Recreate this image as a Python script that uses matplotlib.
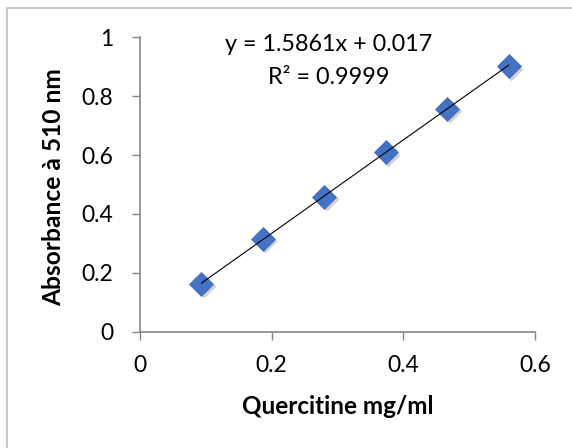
import matplotlib
matplotlib.use("Agg")
import matplotlib.pyplot as plt
import matplotlib.transforms as mtransforms
from matplotlib.patches import Rectangle
import numpy as np

# quercitine calibration
conc = [0.0933, 0.1867, 0.28, 0.3733, 0.4667, 0.56]
absorb = [0.163, 0.315, 0.458, 0.610, 0.758, 0.902]
slope = 1.5861
intercept = 0.017
r2 = 0.9999

xticks = [0, 0.2, 0.4, 0.6]
xticklabels = ['0', '0.2', '0.4', '0.6']
yticks = [0, 0.2, 0.4, 0.6, 0.8, 1]
yticklabels = ['0', '0.2', '0.4', '0.6', '0.8', '1']

plt.rcParams['font.family'] = ['Lato', 'DejaVu Sans']

fig = plt.figure(figsize=(5.72, 4.48), dpi=100)
ax = fig.add_axes([140/572, 1 - 331.7/448, 395/572, 294.4/448])

# outer chart border (Excel style)
fig.patches.append(Rectangle((7/572, -0.1), 1.1, 1 - 8/448 + 0.1, transform=fig.transFigure,
                             fill=False, edgecolor='#bfbfbf', linewidth=1.2))

# shadow behind the markers
shadow = ax.transData + mtransforms.ScaledTranslation(1.8/72, -1.8/72, fig.dpi_scale_trans)
ax.plot(conc, absorb, linestyle='none', marker='D', ms=12, color='#808080',
        alpha=0.35, mec='none', transform=shadow, zorder=2)
ax.plot(conc, absorb, linestyle='none', marker='D', ms=12, color='#4472c4',
        mec='#3d69b8', mew=0.5, zorder=3)

# trendline
xs = np.array([conc[0], conc[-1]])
ax.plot(xs, slope * xs + intercept, color='black', lw=0.8, zorder=4)

eq1 = ax.text(0.287, 0.974, "y = %.4fx + %.3f" % (slope, intercept),
              ha='center', va='center', fontsize=18)
eq2 = ax.text(0.287, 0.865, "R² = %.4f" % r2, ha='center', va='center', fontsize=18)

ax.set_xlim(0, 0.6)
ax.set_ylim(0, 1)
ax.set_xticks(xticks)
ax.set_yticks(yticks)
ax.set_xticklabels(xticklabels)
ax.set_yticklabels(yticklabels)

for s in ['top', 'right']:
    ax.spines[s].set_visible(False)
for s in ['left', 'bottom']:
    ax.spines[s].set_color('#868686')
    ax.spines[s].set_linewidth(1.2)
ax.tick_params(colors='#868686', labelcolor='black', labelsize=17, length=6, width=1.0)
ax.tick_params(axis='y', pad=13)
ax.tick_params(axis='x', pad=11)

ax.set_xlabel("Quercitine mg/ml", fontsize=16, fontweight='bold')
ax.set_ylabel("Absorbance à 510 nm", fontsize=16, fontweight='bold')

# match text widths to the reference (pixels)
fig.canvas.draw()
r = fig.canvas.get_renderer()


def fit(t, target, vertical=False):
    bb = t.get_window_extent(r)
    cur = bb.height if vertical else bb.width
    t.set_fontsize(t.get_fontsize() * target / cur)


scale_eq = 208 / eq1.get_window_extent(r).width
eq1.set_fontsize(18 * scale_eq)
eq2.set_fontsize(18 * scale_eq)

tick08 = ax.get_yticklabels()[4]
ax.tick_params(labelsize=17 * 32 / tick08.get_window_extent(r).width)

fit(ax.xaxis.label, 193)
fit(ax.yaxis.label, 238, vertical=True)

ax.xaxis.label.set_va('center')
ax.yaxis.label.set_va('center')
ax.xaxis.set_label_coords((338 - 140) / 395, (331.7 - 406) / 294.4)
ax.yaxis.set_label_coords((54 - 140) / 395, (331.7 - 187.5) / 294.4)

fig.savefig("out.png", dpi=100)
